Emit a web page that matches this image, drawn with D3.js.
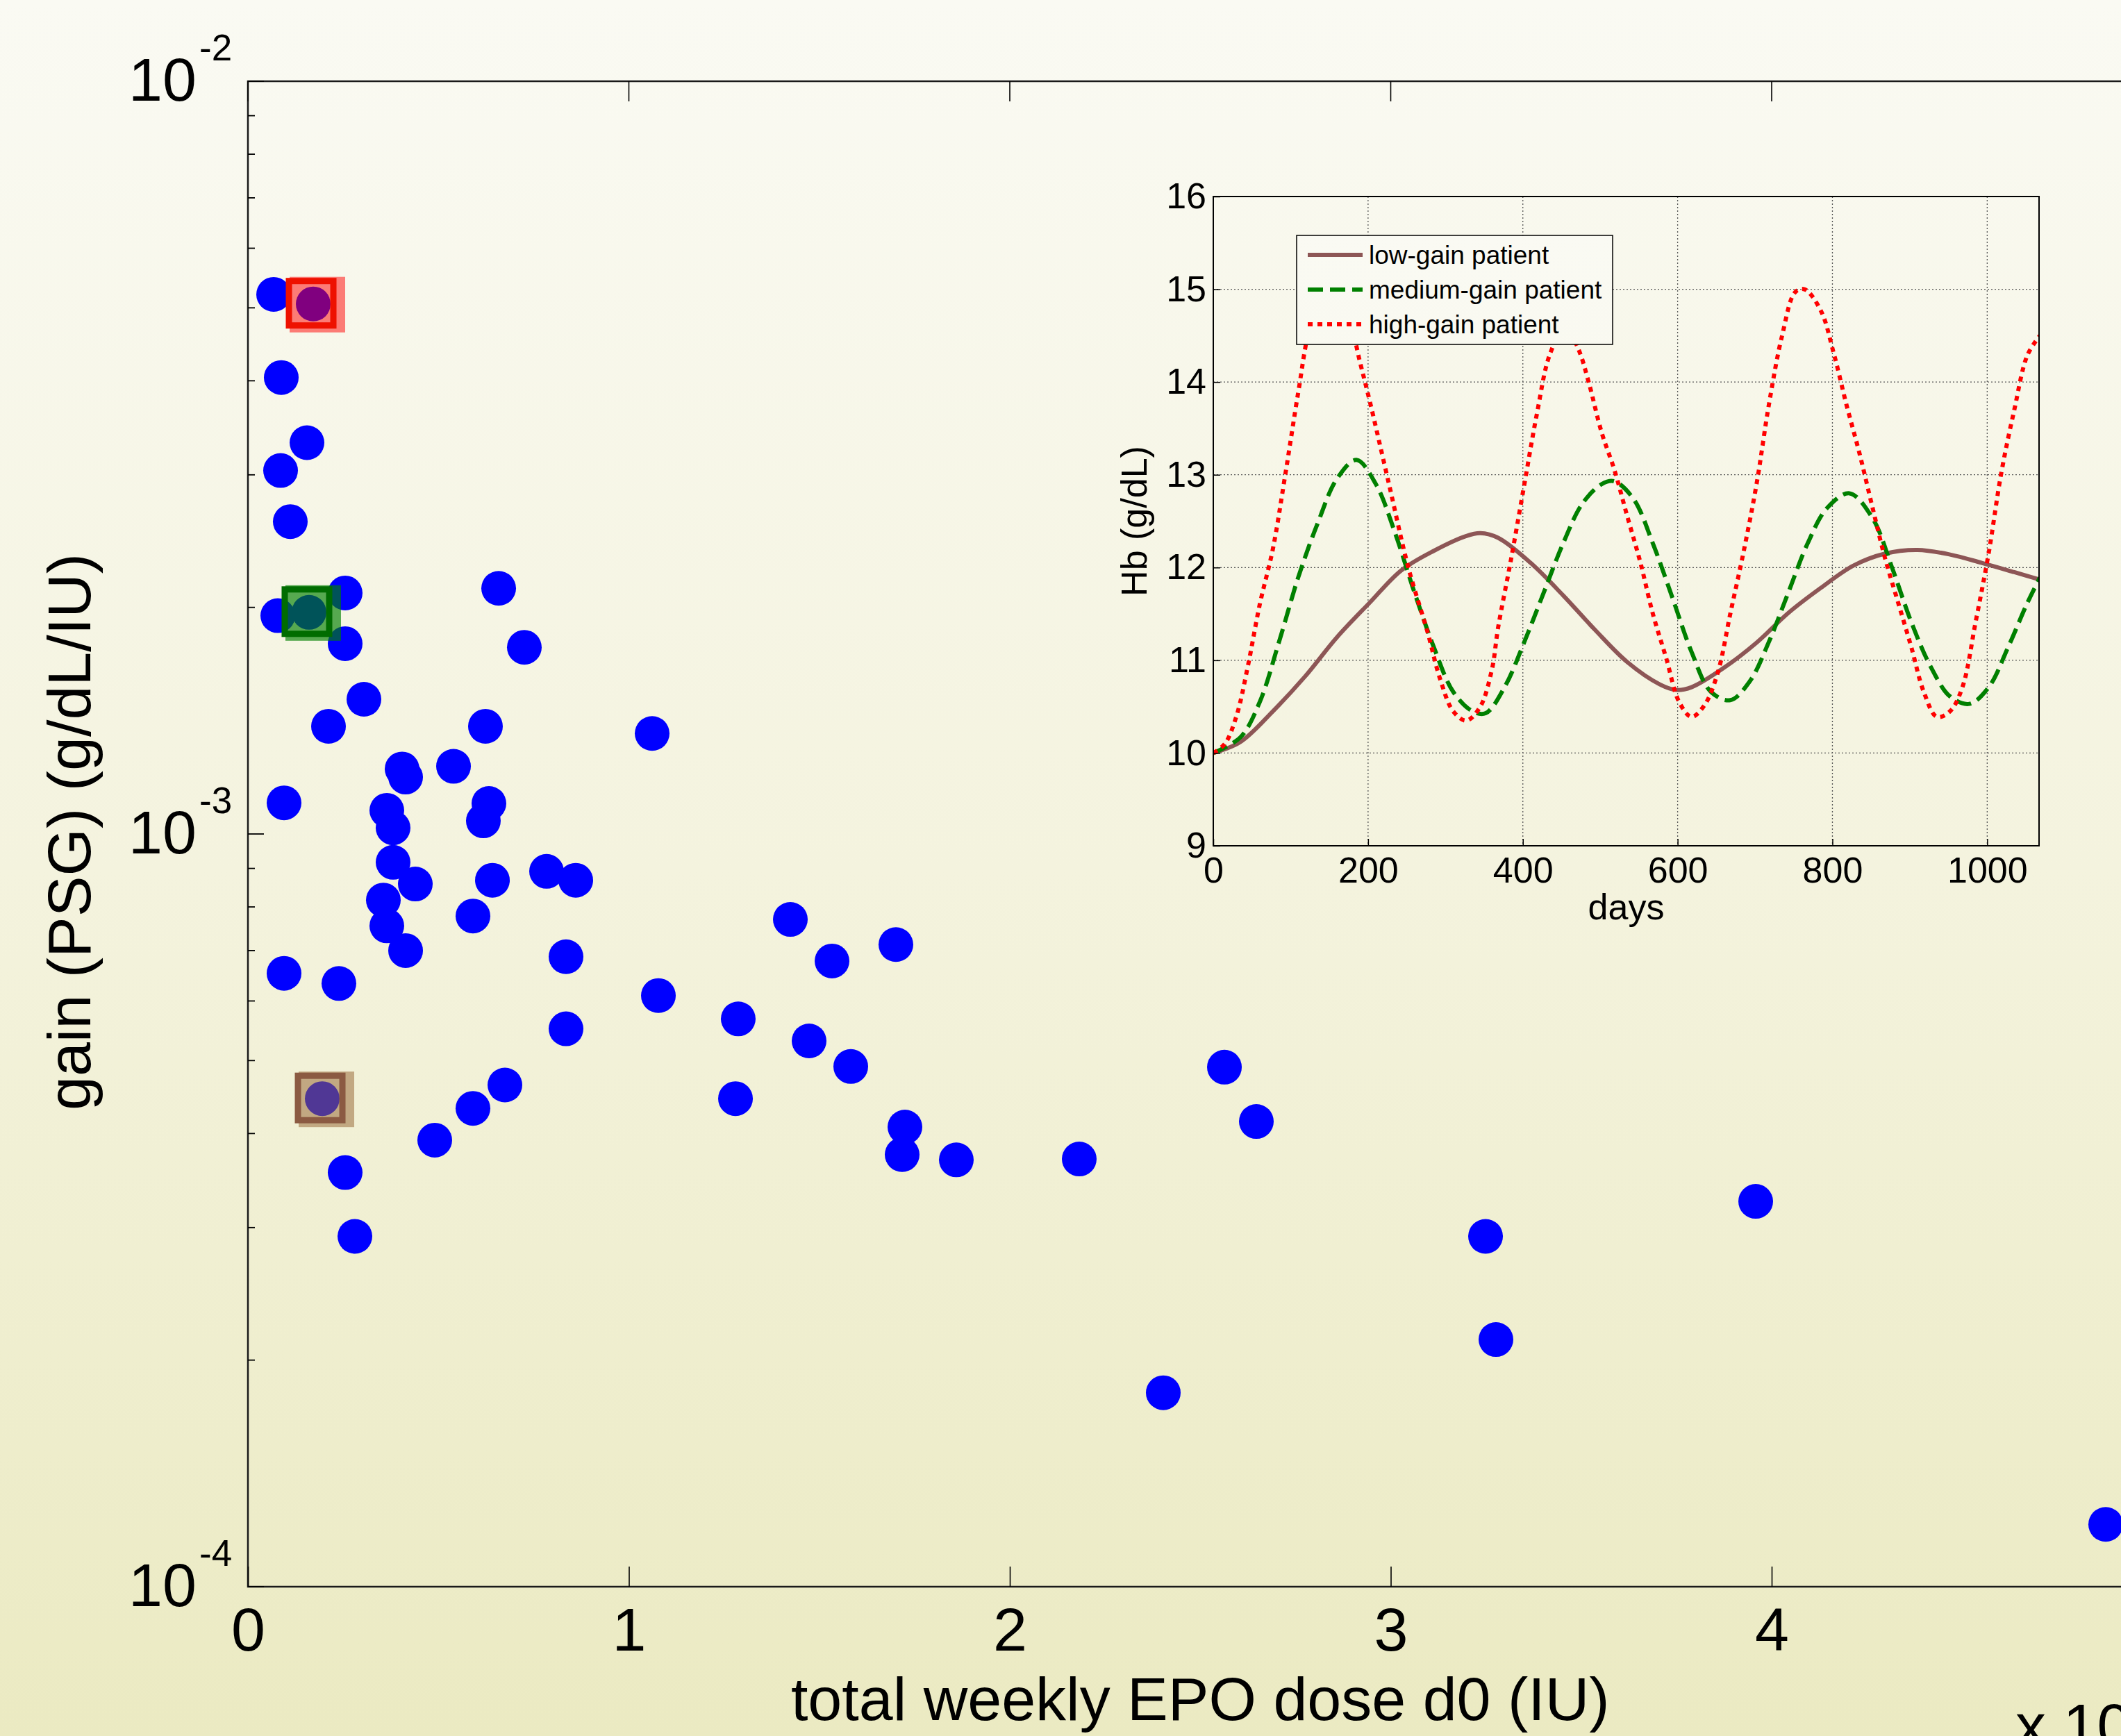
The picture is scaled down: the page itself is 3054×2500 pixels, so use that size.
<!DOCTYPE html>
<html>
<head>
<meta charset="utf-8">
<title>EPO dose vs gain</title>
<script src="https://d3js.org/d3.v7.min.js"></script>
<style>
  body { margin: 0; }
  text { font-family: "Liberation Sans", Arial, sans-serif; fill: #000; }
</style>
</head>
<body>
<script>
const width = 3054;
const height = 2500;

// scatter: total weekly EPO dose (IU) vs gain (PSG)
const doseIU = [675, 1714, 875, 1550, 857, 1112, 6582, 2552, 784, 1604,
  2552, 7256, 3045, 2115, 6235, 10611, 4047, 4139, 5397, 948,
  3646, 3810, 6326, 6180, 3810, 4394, 6418, 7840, 8605, 3555,
  3646, 4139, 5907, 8350, 948, 2388, 14239, 15333, 17010, 10775,
  12871, 14731, 15825, 12799, 17247, 17174, 18596, 8350, 1951, 6746,
  5907, 4904, 2552, 2808, 21823, 25634, 26472, 32489, 39581, 32762,
  24029, 48769];
const gainPSG = [5.21e-3, 5.06e-3, 4.04e-3, 3.31e-3, 3.04e-3, 2.60e-3, 2.12e-3, 2.09e-3, 1.95e-3, 1.97e-3,
  1.79e-3, 1.77e-3, 1.51e-3, 1.39e-3, 1.39e-3, 1.36e-3, 1.22e-3, 1.19e-3, 1.23e-3, 1.10e-3,
  1.075e-3, 1.019e-3, 1.098e-3, 1.041e-3, 9.17e-4, 8.58e-4, 8.68e-4, 8.92e-4, 8.68e-4, 8.17e-4,
  7.55e-4, 7.00e-4, 7.78e-4, 6.87e-4, 6.53e-4, 6.33e-4, 7.70e-4, 6.78e-4, 7.13e-4, 6.10e-4,
  5.68e-4, 5.31e-4, 4.91e-4, 4.45e-4, 4.08e-4, 3.75e-4, 3.69e-4, 5.51e-4, 4.45e-4, 4.64e-4,
  4.32e-4, 3.92e-4, 3.55e-4, 2.92e-4, 3.70e-4, 4.90e-4, 4.15e-4, 2.92e-4, 3.25e-4, 2.13e-4,
  1.81e-4, 1.21e-4];

// the three patients boxed in the scatter (indices into the arrays above)
const patientNames = ["low-gain patient", "medium-gain patient", "high-gain patient"];
const patientIndex = [48, 9, 1];

const xTicks = [0, 10000, 20000, 30000, 40000];
const yMajorTicks = [1e-4, 1e-3, 1e-2];

// inset: Hb (g/dL) over days
const lowGain = [[0,10.0],[35,10.12],[77,10.45],[118,10.82],[160,11.25],[202,11.62],[243,11.97],
  [285,12.18],[327,12.34],[345,12.37],[368,12.32],[410,12.05],[452,11.7],[493,11.33],[535,10.98],
  [577,10.74],[598,10.68],[618,10.71],[660,10.92],[702,11.19],[743,11.51],[785,11.78],[827,12.02],
  [868,12.15],[910,12.19],[952,12.14],[993,12.05],[1035,11.95],[1068,11.87]];
const mediumGain = [[0,10.0],[35,10.17],[60,10.55],[85,11.2],[110,11.9],[135,12.48],[160,12.96],
  [185,13.16],[210,12.9],[235,12.37],[260,11.73],[285,11.14],[310,10.66],[335,10.45],[352,10.43],
  [377,10.72],[402,11.2],[427,11.73],[452,12.26],[477,12.69],[502,12.9],[518,12.93],[543,12.74],
  [568,12.26],[593,11.68],[618,11.09],[643,10.66],[668,10.57],[693,10.77],[718,11.2],[743,11.73],
  [768,12.26],[793,12.64],[822,12.8],[852,12.53],[877,12.0],[902,11.41],[927,10.93],[952,10.61],
  [977,10.53],[1002,10.71],[1027,11.14],[1052,11.62],[1068,11.89]];
const highGain = [[0,10.0],[15,10.1],[30,10.4],[45,10.95],[60,11.6],[77,12.2],[93,13.0],[110,13.9],
  [125,14.6],[150,15.15],[175,14.7],[190,14.2],[202,13.8],[227,12.9],[252,12.0],[277,11.3],[293,10.8],
  [310,10.45],[327,10.35],[345,10.5],[360,10.9],[368,11.35],[385,12.1],[402,12.9],[418,13.65],
  [435,14.3],[455,14.6],[472,14.35],[485,14.0],[502,13.45],[518,13.06],[535,12.55],[552,12.05],
  [568,11.5],[585,11.03],[602,10.55],[618,10.39],[635,10.52],[652,10.87],[668,11.5],[685,12.16],
  [702,12.9],[718,13.76],[735,14.5],[752,14.97],[764,15.0],[785,14.77],[802,14.3],[818,13.76],
  [835,13.23],[852,12.64],[868,12.1],[885,11.62],[902,11.14],[918,10.66],[935,10.39],[952,10.45],
  [968,10.71],[985,11.41],[1002,12.16],[1018,13.01],[1035,13.7],[1052,14.29],[1068,14.5]];
const insetDayTicks = [0, 200, 400, 600, 800, 1000];
const insetHbTicks = [9, 10, 11, 12, 13, 14, 15, 16];

// styles
const patientLine = [
  {color: "#8d5656", dash: null},
  {color: "#008000", dash: "22,10"},
  {color: "#ff0000", dash: "7,7"}
];
const patientBox = [
  {fill: "rgba(152,104,55,0.53)", stroke: "#8b5a42"},
  {fill: "rgba(0,128,0,0.65)", stroke: "#006c00"},
  {fill: "rgba(255,0,0,0.5)", stroke: "#ee1100"}
];

const svg = d3.select("body").append("svg")
  .attr("width", width)
  .attr("height", height);

const grad = svg.append("defs").append("linearGradient")
  .attr("id", "bg")
  .attr("gradientUnits", "userSpaceOnUse")
  .attr("x1", 0).attr("y1", 0).attr("x2", 0).attr("y2", height);
grad.append("stop").attr("offset", 0).attr("stop-color", "#fafaf3");
grad.append("stop").attr("offset", 0.5).attr("stop-color", "#f4f3de");
grad.append("stop").attr("offset", 1).attr("stop-color", "#ebeac2");

svg.append("rect").attr("width", width).attr("height", height).attr("fill", "url(#bg)");

// ---- main scatter ----
const x = d3.scaleLinear().domain([0, 50000]).range([357, 3099.5]);
const y = d3.scaleLog().domain([1e-4, 1e-2]).range([2285, 117]);

const main = svg.append("g");

// frame
main.append("rect")
  .attr("x", x(0)).attr("y", y(1e-2))
  .attr("width", x(50000) - x(0)).attr("height", y(1e-4) - y(1e-2))
  .attr("fill", "none").attr("stroke", "#1a1a1a").attr("stroke-width", 2.5);

// x axis (ticks point inward)
const xAxis = d3.axisBottom(x)
  .tickValues(xTicks)
  .tickFormat(d => d / 10000)
  .tickSizeInner(-29)
  .tickSizeOuter(0)
  .tickPadding(30);
const gx = main.append("g")
  .attr("transform", "translate(0," + y(1e-4) + ")")
  .call(xAxis);
gx.select(".domain").remove();
gx.selectAll("line").attr("stroke", "#000").attr("stroke-width", 1.6);
gx.selectAll("text").attr("font-size", 88).attr("font-family", "Liberation Sans, Arial, sans-serif");

// top ticks
main.append("g").selectAll("line").data(xTicks).join("line")
  .attr("x1", d => x(d)).attr("x2", d => x(d))
  .attr("y1", y(1e-2)).attr("y2", y(1e-2) + 29)
  .attr("stroke", "#000").attr("stroke-width", 1.6);

// y axis ticks, minor and major
main.append("g").selectAll("line").data(y.ticks()).join("line")
  .attr("x1", x(0))
  .attr("x2", d => x(0) + (yMajorTicks.includes(d) ? 23 : 10))
  .attr("y1", d => y(d)).attr("y2", d => y(d))
  .attr("stroke", "#000").attr("stroke-width", 1.8);

const ylab = main.append("g").selectAll("g").data(yMajorTicks).join("g");
ylab.append("text")
  .attr("x", 283).attr("y", d => y(d) + 28)
  .attr("text-anchor", "end").attr("font-size", 88)
  .text("10");
ylab.append("text")
  .attr("x", 287).attr("y", d => y(d) - 30)
  .attr("font-size", 53)
  .text(d => String(Math.round(Math.log10(d))));

// axis titles
main.append("text")
  .attr("transform", "translate(130," + (y(1e-3) - 3) + ") rotate(-90)")
  .attr("text-anchor", "middle").attr("font-size", 88)
  .text("gain (PSG) (g/dL/IU)");
main.append("text")
  .attr("x", x(25000)).attr("y", 2477)
  .attr("text-anchor", "middle").attr("font-size", 88)
  .text("total weekly EPO dose d0 (IU)");
// axis multiplier, cut by the bottom edge as in the original
const mult = main.append("text").attr("x", 2902).attr("y", 2515).attr("font-size", 88);
mult.append("tspan").text("x 10");
mult.append("tspan").attr("font-size", 53).attr("dy", -58).text("4");

// points
main.append("g").selectAll("circle").data(doseIU).join("circle")
  .attr("cx", d => x(d))
  .attr("cy", (d, i) => y(gainPSG[i]))
  .attr("r", 25)
  .attr("fill", "#0000ff");

// boxed patients: translucent square then outline
const boxes = main.append("g").selectAll("g").data(patientIndex).join("g");
boxes.append("rect")
  .attr("x", d => x(doseIU[d]) + 6 - 40)
  .attr("y", d => y(gainPSG[d]) + 1 - 40)
  .attr("width", 80).attr("height", 80)
  .attr("fill", (d, i) => patientBox[i].fill);
boxes.append("rect")
  .attr("x", d => x(doseIU[d]) - 3 - 32)
  .attr("y", d => y(gainPSG[d]) - 1 - 32)
  .attr("width", 64).attr("height", 64)
  .attr("fill", "none")
  .attr("stroke", (d, i) => patientBox[i].stroke)
  .attr("stroke-width", 9);

// ---- inset ----
const ix = d3.scaleLinear().domain([0, 1067]).range([1747, 2936]);
const iy = d3.scaleLinear().domain([9, 16]).range([1218, 283]);
const inset = svg.append("g");

inset.append("clipPath").attr("id", "insetClip")
  .append("rect")
  .attr("x", ix(0)).attr("y", iy(16))
  .attr("width", ix(1067) - ix(0)).attr("height", iy(9) - iy(16));

// grid
inset.append("g").selectAll("line").data(insetDayTicks.slice(1)).join("line")
  .attr("x1", d => ix(d)).attr("x2", d => ix(d))
  .attr("y1", iy(16)).attr("y2", iy(9))
  .attr("stroke", "#555").attr("stroke-width", 1.3).attr("stroke-dasharray", "2,3");
inset.append("g").selectAll("line").data(insetHbTicks.slice(1, -1)).join("line")
  .attr("x1", ix(0)).attr("x2", ix(1067))
  .attr("y1", d => iy(d)).attr("y2", d => iy(d))
  .attr("stroke", "#555").attr("stroke-width", 1.3).attr("stroke-dasharray", "2,3");

// curves
const line = d3.line()
  .x(d => ix(d[0]))
  .y(d => iy(d[1]))
  .curve(d3.curveCatmullRom.alpha(0.5));
const curves = [lowGain, mediumGain, highGain];
inset.append("g").attr("clip-path", "url(#insetClip)")
  .selectAll("path").data(curves).join("path")
  .attr("d", line)
  .attr("fill", "none")
  .attr("stroke", (d, i) => patientLine[i].color)
  .attr("stroke-width", 6)
  .attr("stroke-dasharray", (d, i) => patientLine[i].dash);

// inset frame and axes
inset.append("rect")
  .attr("x", ix(0)).attr("y", iy(16))
  .attr("width", ix(1067) - ix(0)).attr("height", iy(9) - iy(16))
  .attr("fill", "none").attr("stroke", "#000").attr("stroke-width", 2);

const ixAxis = d3.axisBottom(ix).tickValues(insetDayTicks).tickFormat(d => String(d))
  .tickSizeInner(-10).tickSizeOuter(0).tickPadding(16);
const gix = inset.append("g").attr("transform", "translate(0," + iy(9) + ")").call(ixAxis);
gix.select(".domain").remove();
gix.selectAll("line").attr("stroke", "#000").attr("stroke-width", 1.5);
gix.selectAll("text").attr("font-size", 52).attr("font-family", "Liberation Sans, Arial, sans-serif");

const iyAxis = d3.axisLeft(iy).tickValues(insetHbTicks).tickFormat(d => String(d))
  .tickSizeInner(-10).tickSizeOuter(0).tickPadding(10);
const giy = inset.append("g").attr("transform", "translate(" + ix(0) + ",0)").call(iyAxis);
giy.select(".domain").remove();
giy.selectAll("line").attr("stroke", "#000").attr("stroke-width", 1.5);
giy.selectAll("text").attr("font-size", 52).attr("font-family", "Liberation Sans, Arial, sans-serif");

inset.append("text")
  .attr("x", (ix(0) + ix(1067)) / 2).attr("y", 1324)
  .attr("text-anchor", "middle").attr("font-size", 52)
  .text("days");
inset.append("text")
  .attr("transform", "translate(1651," + ((iy(9) + iy(16)) / 2) + ") rotate(-90)")
  .attr("text-anchor", "middle").attr("font-size", 52)
  .text("Hb (g/dL)");

// legend
const legend = inset.append("g").attr("transform", "translate(1867,339)");
legend.append("rect")
  .attr("width", 455).attr("height", 157)
  .attr("fill", "url(#bg)")
  .attr("stroke", "#000").attr("stroke-width", 1.5);
const entry = legend.selectAll("g.entry").data(patientNames).join("g")
  .attr("class", "entry")
  .attr("transform", (d, i) => "translate(0," + (28 + i * 50) + ")");
entry.append("line")
  .attr("x1", 16).attr("x2", 95)
  .attr("stroke", (d, i) => patientLine[i].color)
  .attr("stroke-width", 6)
  .attr("stroke-dasharray", (d, i) => patientLine[i].dash);
entry.append("text")
  .attr("x", 104).attr("y", 13)
  .attr("font-size", 37)
  .text(d => d);
</script>
</body>
</html>
